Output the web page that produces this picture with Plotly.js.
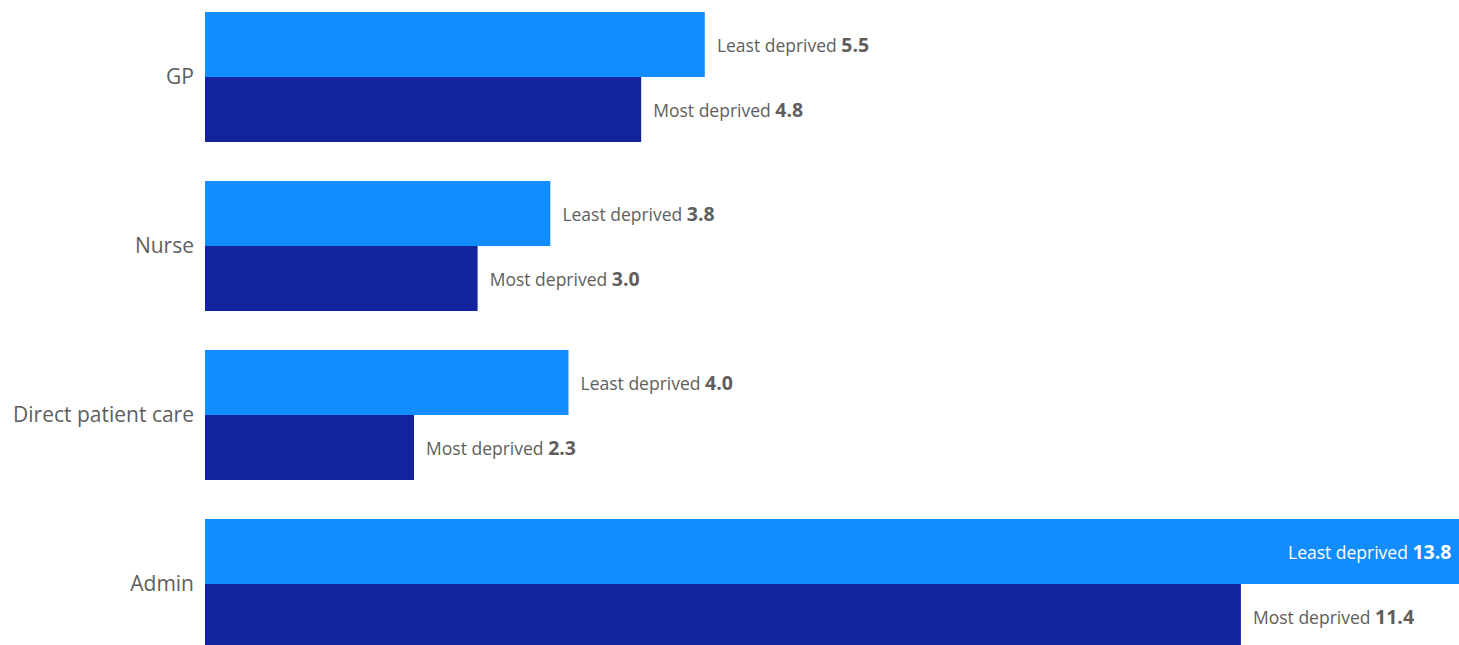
<!DOCTYPE html>
<html>
<head>
<meta charset="utf-8">
<script src="https://cdn.plot.ly/plotly-3.0.1.min.js"></script>
<style>html,body{margin:0;padding:0;background:#fff;}#chart{width:1459px;height:645px;}</style>
</head>
<body>
<div id="chart"></div>
<script>
var categories = ["GP", "Nurse", "Direct patient care", "Admin"];
var leastDeprived = [5.5, 3.8, 4.0, 13.8];
var mostDeprived = [4.8, 3.0, 2.3, 11.4];
var seriesNames = ["Least deprived", "Most deprived"];

function labels(name, vals, insideIdx) {
  return vals.map(function (v, i) {
    var inside = (i === insideIdx);
    var pre = inside ? "" : "\u00A0\u00A0";
    var post = inside ? "\u00A0" : "";
    return pre + name + " <b><span style=\"font-size:19.5px\">" + v.toFixed(1) + "</span></b>" + post;
  });
}

var fontFam = "'Open Sans', 'Noto Sans', sans-serif";

var traceLeast = {
  type: "bar", orientation: "h",
  name: seriesNames[0],
  y: categories, x: leastDeprived,
  marker: {color: "#118DFF"},
  text: labels(seriesNames[0], leastDeprived, 3),
  textposition: ["outside", "outside", "outside", "inside"],
  insidetextanchor: "end",
  textfont: {family: fontFam, size: 17.5, color: ["#605E5C", "#605E5C", "#605E5C", "#FFFFFF"]},
  cliponaxis: false,
  hoverinfo: "none"
};
var traceMost = {
  type: "bar", orientation: "h",
  name: seriesNames[1],
  y: categories, x: mostDeprived,
  marker: {color: "#12239E"},
  text: labels(seriesNames[1], mostDeprived, -1),
  textposition: "outside",
  textfont: {family: fontFam, size: 17.5, color: "#605E5C"},
  cliponaxis: false,
  hoverinfo: "none"
};

var layout = {
  width: 1459, height: 645,
  margin: {l: 205, r: 0, t: 0, b: 0},
  barmode: "group",
  bargap: 0.23,
  bargroupgap: 0,
  showlegend: false,
  paper_bgcolor: "#fff", plot_bgcolor: "#fff",
  xaxis: {range: [0, 13.8], visible: false, fixedrange: true},
  yaxis: {
    type: "category",
    range: [3.361, -0.456],
    showgrid: false, zeroline: false, showline: false, ticks: "",
    ticklabelstandoff: 10,
    tickfont: {family: fontFam, size: 21, color: "#605E5C"}
  }
};

Plotly.newPlot("chart", [traceLeast, traceMost], layout, {displayModeBar: false, staticPlot: true});
</script>
</body>
</html>
